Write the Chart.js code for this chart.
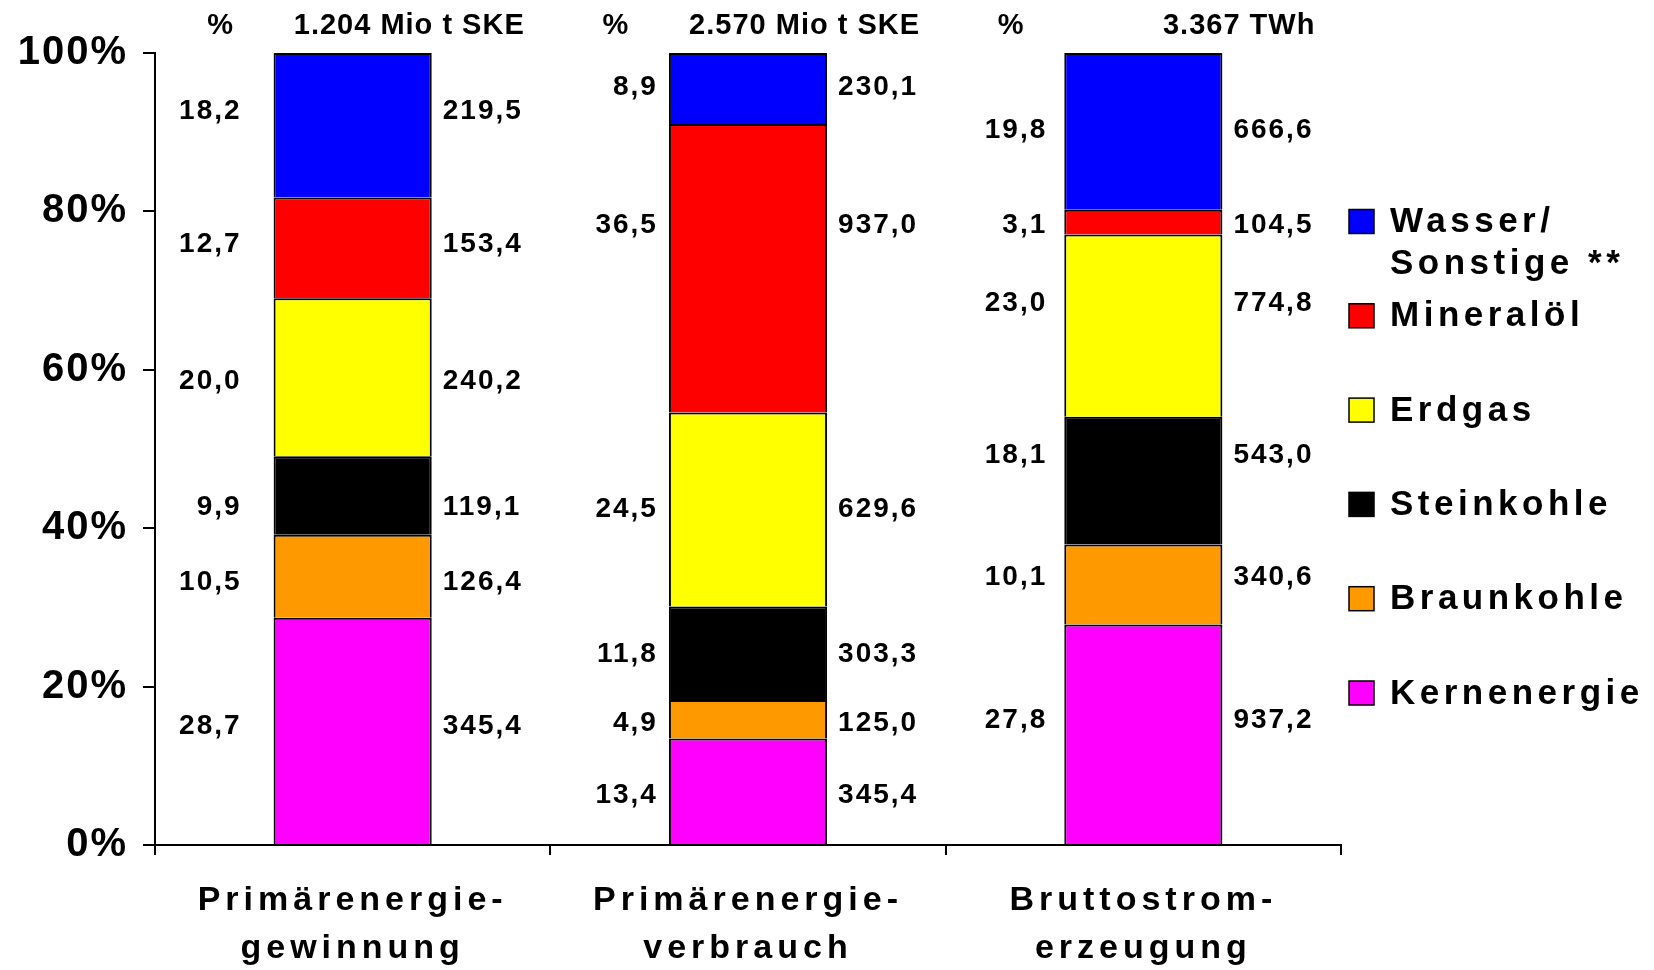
<!DOCTYPE html>
<html>
<head>
<meta charset="utf-8">
<script src="https://cdn.jsdelivr.net/npm/chart.js@4.4.0/dist/chart.umd.min.js"></script>
<style>
  html, body { margin: 0; padding: 0; background: #fff; }
  #wrap { width: 1654px; height: 970px; }
</style>
</head>
<body>
<div id="wrap"><canvas id="myChart" width="1654" height="970"></canvas></div>
<script>
// Categories (two-line axis labels) and the total printed above each bar
var categories = [
  ["Primärenergie-", "gewinnung"],
  ["Primärenergie-", "verbrauch"],
  ["Bruttostrom-", "erzeugung"]
];
var totals = ["1.204 Mio t SKE", "2.570 Mio t SKE", "3.367 TWh"];

// Series, bottom of the stack first
var seriesNames = ["Kernenergie", "Braunkohle", "Steinkohle", "Erdgas", "Mineralöl", "Wasser/\nSonstige **"];

// Absolute values (Mio t SKE resp. TWh) printed right of the bars
var kernenergie = [345.4, 345.4, 937.2];
var braunkohle  = [126.4, 125.0, 340.6];
var steinkohle  = [119.1, 303.3, 543.0];
var erdgas      = [240.2, 629.6, 774.8];
var mineraloel  = [153.4, 937.0, 104.5];
var wasser      = [219.5, 230.1, 666.6];

// Shares in % as printed left of the bars
var pctKernenergie = [28.7, 13.4, 27.8];
var pctBraunkohle  = [10.5, 4.9, 10.1];
var pctSteinkohle  = [9.9, 11.8, 18.1];
var pctErdgas      = [20.0, 24.5, 23.0];
var pctMineraloel  = [12.7, 36.5, 3.1];
var pctWasser      = [18.2, 8.9, 19.8];

// y axis ticks
var yTicks = [0, 20, 40, 60, 80, 100];

var values = [kernenergie, braunkohle, steinkohle, erdgas, mineraloel, wasser];
var percents = [pctKernenergie, pctBraunkohle, pctSteinkohle, pctErdgas, pctMineraloel, pctWasser];
var colors = ["#FF00FF", "#FF9900", "#000000", "#FFFF00", "#FF0000", "#0000FF"];

// 100% stacked: each bar is scaled to its own total
var sums = categories.map(function (c, j) {
  return values.reduce(function (s, v) { return s + v[j]; }, 0);
});
function share(arr) {
  return arr.map(function (v, j) { return v / sums[j] * 100; });
}
function fmt(v) {
  return v.toFixed(1).replace(".", ",");
}

var FONT = '"Liberation Sans", Arial, sans-serif';
Chart.defaults.font.family = FONT;
Chart.defaults.color = "#000";

// wide lettering like the original (category labels wider than the y ticks)
var spacingPlugin = {
  id: "spacing",
  beforeLayout: function (chart) { chart.ctx.letterSpacing = "5px"; },
  afterLayout: function (chart) {
    var ys = chart.scales.y;
    if (ys._wrapped) return;
    var drawLabels = ys.drawLabels;
    ys.drawLabels = function (area) {
      var c = this.ctx;
      var old = c.letterSpacing;
      c.letterSpacing = "2px";
      drawLabels.call(this, area);
      c.letterSpacing = old;
    };
    ys._wrapped = true;
  },
  beforeDraw: function (chart) { chart.ctx.letterSpacing = "5px"; }
};

var labelPlugin = {
  id: "segmentLabels",
  afterDraw: function (chart, args, opts) {
    var ctx = chart.ctx;
    var y = chart.scales.y;
    ctx.save();
    ctx.fillStyle = "#000";
    ctx.textBaseline = "middle";

    // labels left (%) and right (absolute) of each segment
    ctx.font = "bold 28px " + FONT;
    ctx.letterSpacing = "2px";
    chart.data.datasets.forEach(function (ds, i) {
      chart.getDatasetMeta(i).data.forEach(function (bar, j) {
        var top = y.getValueForPixel(bar.y);
        var bottom = y.getValueForPixel(bar.base);
        var at = y.getPixelForValue((top + bottom) / 2 + opts.nudge[i][j]);
        var left = bar.x - bar.width / 2;
        var right = bar.x + bar.width / 2;
        ctx.textAlign = "right";
        ctx.fillText(fmt(percents[i][j]), left - opts.gapLeft[j] + 2, at);
        ctx.textAlign = "left";
        ctx.fillText(fmt(values[i][j]), right + opts.gapRight, at);
      });
    });

    // headers above the bars
    ctx.font = "bold 29px " + FONT;
    ctx.letterSpacing = "1px";
    chart.getDatasetMeta(0).data.forEach(function (bar, j) {
      var left = bar.x - bar.width / 2;
      var right = bar.x + bar.width / 2;
      ctx.textAlign = "center";
      ctx.fillText("%", left - 53, 25.5);
      ctx.textAlign = "right";
      ctx.fillText(totals[j], right + 93, 25.5);
    });

    // legend, top of the stack first
    ctx.font = "bold 35px " + FONT;
    ctx.letterSpacing = "4.5px";
    ctx.textAlign = "left";
    var n = chart.data.datasets.length;
    for (var k = 0; k < n; k++) {
      var ds = chart.data.datasets[n - 1 - k];
      var cy = opts.legendTop + k * opts.legendStep;
      ctx.fillStyle = ds.backgroundColor;
      ctx.fillRect(1349, cy - 12, 25, 24);
      ctx.lineWidth = 1.5;
      ctx.strokeStyle = "#000";
      ctx.strokeRect(1349, cy - 12, 25, 24);
      ctx.fillStyle = "#000";
      ds.label.split("\n").forEach(function (line, l) {
        ctx.fillText(line, 1390, cy + 1 + l * 42);
      });
    }
    ctx.restore();
  }
};

var data = {
  labels: categories,
  datasets: values.map(function (v, i) {
    return {
      label: seriesNames[i],
      data: share(v),
      backgroundColor: colors[i],
      borderColor: "#000",
      borderWidth: 2,
      barPercentage: 0.4,
      categoryPercentage: 1.0
    };
  })
};

var config = {
  type: "bar",
  data: data,
  plugins: [spacingPlugin, labelPlugin],
  options: {
    responsive: false,
    animation: false,
    devicePixelRatio: 1,
    layout: { padding: { top: 53, right: 313, left: 0, bottom: 0 } },
    scales: {
      x: {
        stacked: true,
        offset: true,
        grid: { offset: true, drawOnChartArea: false, drawTicks: true, tickLength: 10, color: "#000", lineWidth: 2 },
        border: { display: true, color: "#000", width: 2 },
        ticks: {
          color: "#000",
          padding: 22,
          maxRotation: 0,
          autoSkip: false,
          font: { size: 34, weight: "bold", lineHeight: 1.4 }
        },
        afterFit: function (s) { s.height = 125; }
      },
      y: {
        stacked: true,
        min: yTicks[0],
        max: yTicks[yTicks.length - 1],
        afterBuildTicks: function (s) {
          s.ticks = yTicks.map(function (v) { return { value: v }; });
        },
        ticks: {
          color: "#000",
          padding: 15,
          font: { size: 40, weight: "bold" },
          callback: function (v) { return v + "%"; }
        },
        grid: { drawOnChartArea: false, drawTicks: true, tickLength: 12, color: "#000", lineWidth: 2 },
        border: { display: true, color: "#000", width: 2 },
        afterFit: function (s) { s.width = 155; }
      }
    },
    plugins: {
      legend: { display: false },
      tooltip: { enabled: false },
      segmentLabels: {
        gapLeft: [34, 13, 19],
        gapRight: 11,
        legendTop: 221.5,
        legendStep: 94.3,
        // small shifts of the labels from the segment middle, in % units
        nudge: [
          [0.6, -0.5, 1.8],
          [-0.8, -0.5, 0.9],
          [-1.5, -0.1, 3.2],
          [-0.5, 0.0, 2.8],
          [0.4, 5.4, -0.4],
          [1.7, 0.2, 0.1]
        ]
      }
    }
  }
};

var ctx = document.getElementById("myChart").getContext("2d");
var myChart = new Chart(ctx, config);
</script>
</body>
</html>
